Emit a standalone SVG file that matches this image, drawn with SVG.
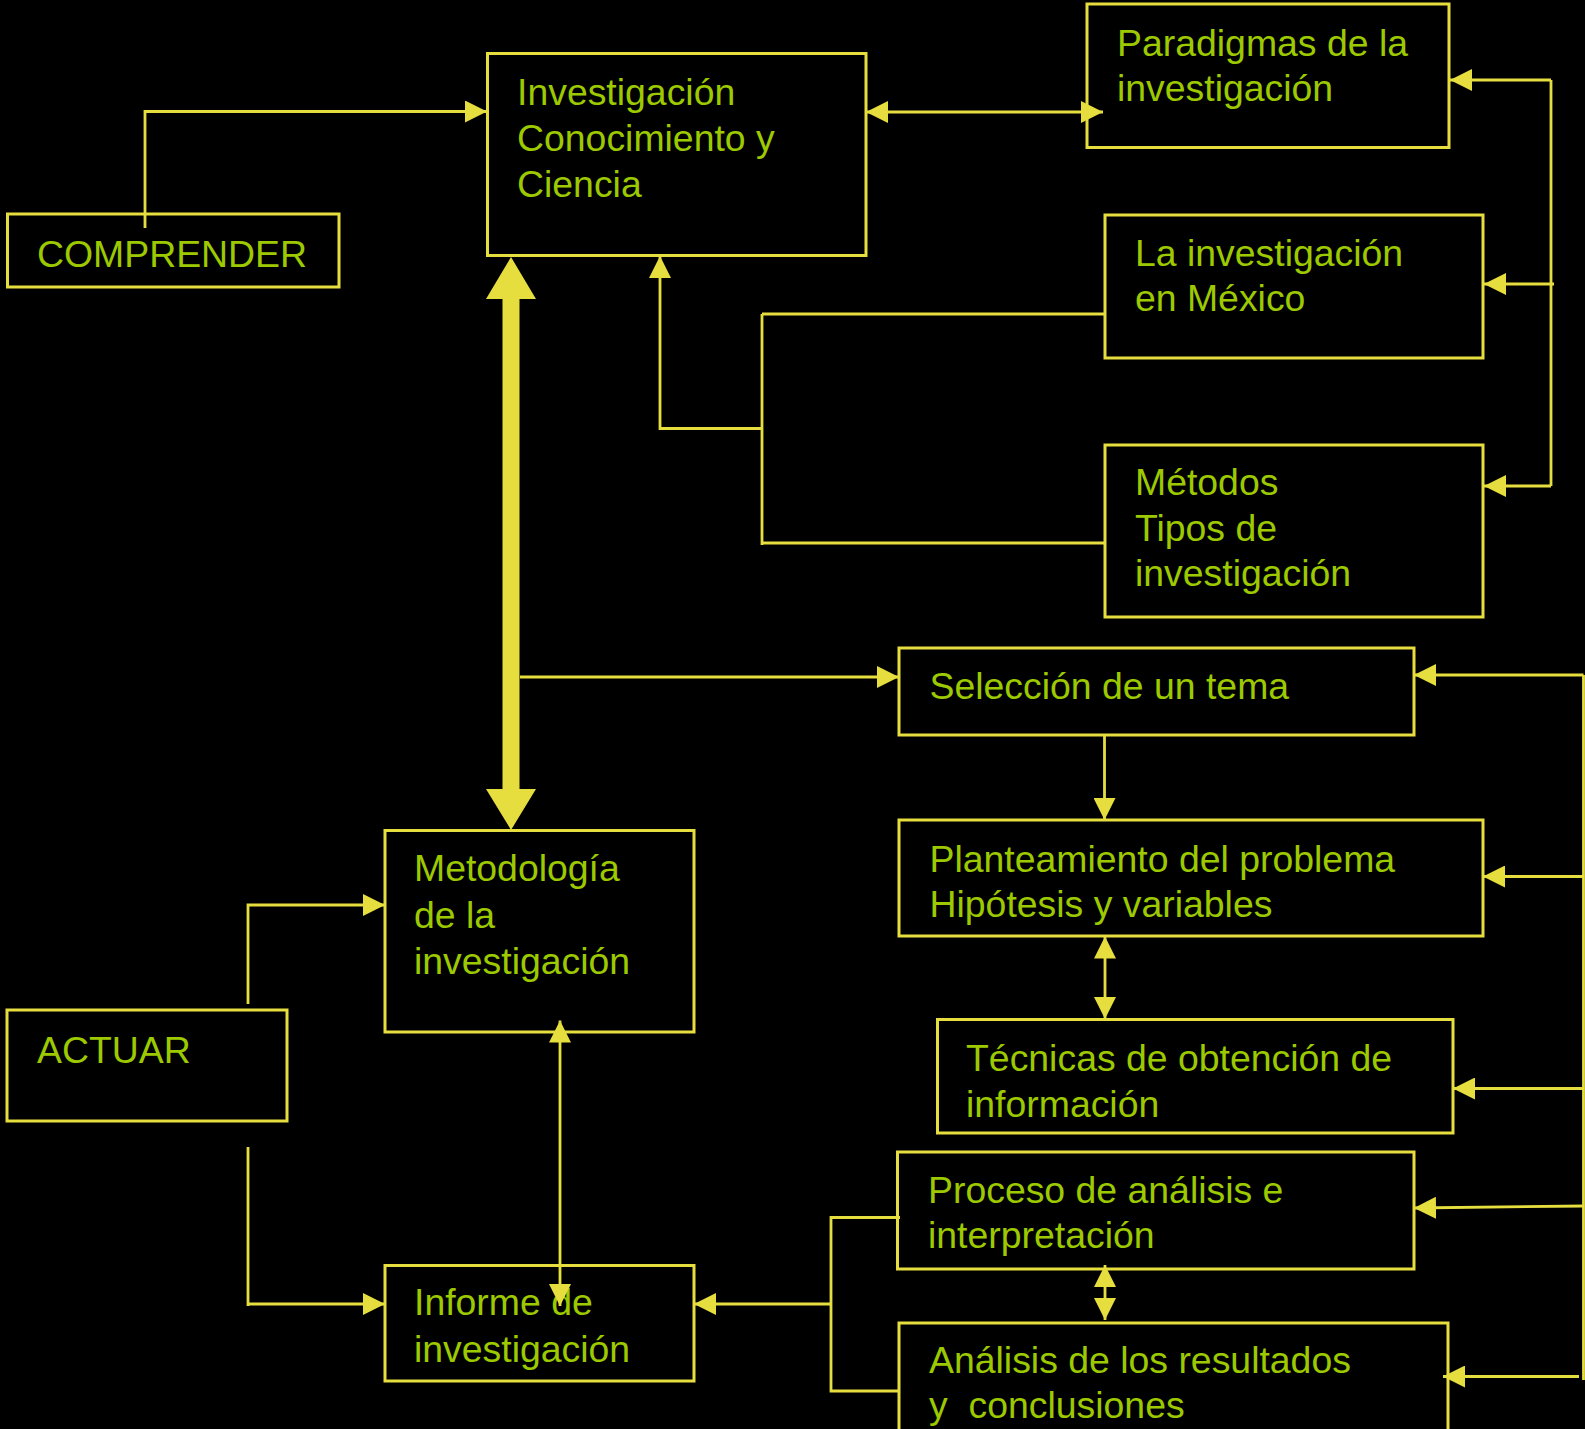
<svg xmlns="http://www.w3.org/2000/svg" width="1585" height="1429" viewBox="0 0 1585 1429">
<style>
.box{fill:none;stroke:#E6DE3E;stroke-width:3}
.t{font-family:"Liberation Sans",Arial,sans-serif;font-size:37.4px;fill:#9CC900}
.c{fill:none;stroke:#E6DE3E;stroke-width:2.8}
.ce{marker-end:url(#ah)}
.cb{marker-start:url(#ah);marker-end:url(#ah)}
</style>
<defs>
<marker id="ah" markerUnits="userSpaceOnUse" markerWidth="22" markerHeight="22" viewBox="0 0 20 20" refX="20" refY="10" orient="auto-start-reverse">
<path d="M0,0 L20,10 L0,20 z" fill="#E6DE3E"/>
</marker>
</defs>
<rect width="1585" height="1429" fill="#000"/>

<g id="n-inv"><rect class="box" x="487.5" y="53.5" width="378.5" height="202"/>
<text class="t"><tspan x="517" y="105">Investigación</tspan><tspan x="517" y="151">Conocimiento y</tspan><tspan x="517" y="197">Ciencia</tspan></text></g>

<g id="n-comprender"><rect class="box" x="7.5" y="214" width="331.5" height="73"/>
<text class="t" x="37" y="267">COMPRENDER</text></g>

<g id="n-paradigmas"><rect class="box" x="1087" y="4" width="362" height="143.5"/>
<text class="t"><tspan x="1117" y="56">Paradigmas de la</tspan><tspan x="1117" y="101">investigación</tspan></text></g>

<g id="n-mexico"><rect class="box" x="1105" y="215" width="378" height="143"/>
<text class="t"><tspan x="1135" y="266">La investigación</tspan><tspan x="1135" y="311">en México</tspan></text></g>

<g id="n-metodos"><rect class="box" x="1105" y="445" width="378" height="172"/>
<text class="t"><tspan x="1135" y="495">Métodos</tspan><tspan x="1135" y="541">Tipos de</tspan><tspan x="1135" y="586">investigación</tspan></text></g>

<g id="n-seleccion"><rect class="box" x="899" y="648" width="515" height="87"/>
<text class="t" x="929.5" y="699">Selección de un tema</text></g>

<g id="n-planteamiento"><rect class="box" x="899" y="820" width="584" height="116"/>
<text class="t"><tspan x="929.5" y="872">Planteamiento del problema</tspan><tspan x="929.5" y="917">Hipótesis y variables</tspan></text></g>

<g id="n-tecnicas"><rect class="box" x="937.5" y="1019.5" width="515.5" height="113.5"/>
<text class="t"><tspan x="966" y="1071">Técnicas de obtención de</tspan><tspan x="966" y="1117">información</tspan></text></g>

<g id="n-proceso"><rect class="box" x="897.5" y="1152" width="516.5" height="117"/>
<text class="t"><tspan x="928" y="1203">Proceso de análisis e</tspan><tspan x="928" y="1248">interpretación</tspan></text></g>

<g id="n-analisis"><rect class="box" x="899" y="1323" width="549" height="130"/>
<text class="t"><tspan x="929" y="1373">Análisis de los resultados</tspan><tspan x="929" y="1418" xml:space="preserve">y  conclusiones</tspan></text></g>

<g id="n-metodologia"><rect class="box" x="385" y="830.5" width="309" height="201.5"/>
<text class="t"><tspan x="414" y="881">Metodología</tspan><tspan x="414" y="928">de la</tspan><tspan x="414" y="974">investigación</tspan></text></g>

<g id="n-actuar"><rect class="box" x="7" y="1010" width="280" height="111"/>
<text class="t" x="37" y="1063">ACTUAR</text></g>

<g id="n-informe"><rect class="box" x="385" y="1265.5" width="309" height="115.5"/>
<text class="t"><tspan x="414" y="1315">Informe de</tspan><tspan x="414" y="1362">investigación</tspan></text></g>

<g id="connectors">
<path class="c ce" d="M145,228 V111.5 H487"/>
<path class="c cb" d="M866,112 H1103"/>
<path class="c" d="M1551,80 V486"/>
<path class="c ce" d="M1551,80 H1450"/>
<path class="c ce" d="M1554,284 H1484"/>
<path class="c ce" d="M1551,486 H1484"/>
<path class="c" d="M1105,314 H762 M1105,543 H762 M762,314 V545"/>
<path class="c ce" d="M762,428.5 H660 V256"/>
<polygon points="511,257 536,299 519.5,299 519.5,789 536,789 511,830 486,789 502.5,789 502.5,299 486,299" fill="#E6DE3E"/>
<path class="c ce" d="M520,677 H899"/>
<path class="c ce" d="M1104.5,735 V820"/>
<path class="c cb" d="M1105,936.5 V1019"/>
<path class="c" d="M1583.5,675 V1380"/>
<path class="c ce" d="M1583.5,675 H1414"/>
<path class="c ce" d="M1583.5,876.5 H1483"/>
<path class="c ce" d="M1583.5,1088.5 H1453"/>
<path class="c ce" d="M1583.5,1206 L1414,1208"/>
<path class="c ce" d="M1579,1376.5 H1443"/>
<path class="c cb" d="M1105,1265 V1320"/>
<path class="c" d="M900,1217.5 H831 V1391 H899"/>
<path class="c ce" d="M831,1304 H694"/>
<path class="c ce" d="M248,1004 V905 H385"/>
<path class="c" d="M248,1147 V1306"/>
<path class="c ce" d="M248,1304 H385"/>
<path class="c cb" d="M560,1020.5 V1306"/>
</g>
</svg>
